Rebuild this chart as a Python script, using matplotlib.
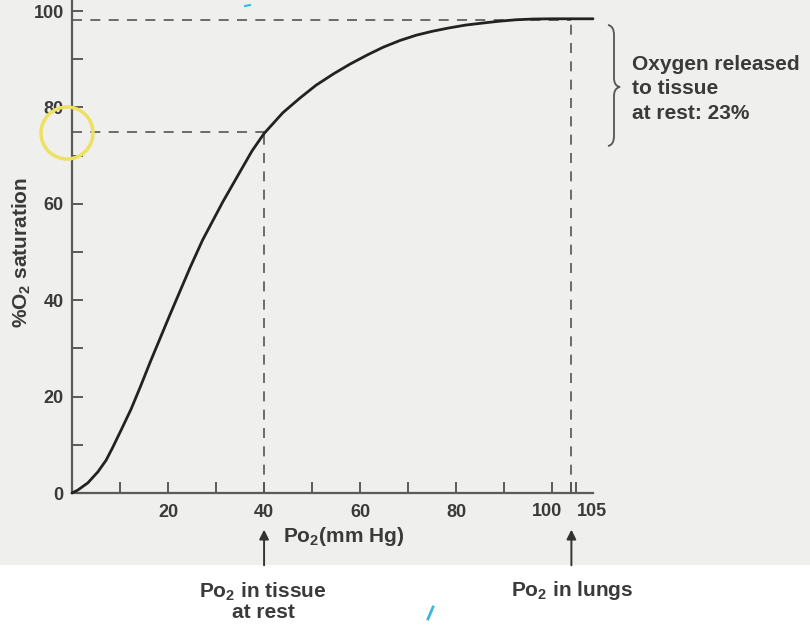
import matplotlib
matplotlib.use("Agg")
import matplotlib.pyplot as plt
from matplotlib.patches import Rectangle, Ellipse, PathPatch
from matplotlib.path import Path
from matplotlib.transforms import Affine2D

# ---- data ----
po2 = [0, 1.2, 3.3, 5.4, 7.1, 8.5, 10.2, 12.3, 14.3, 16.3, 20.4, 24.6, 27.2, 31.4,
       34.9, 37.5, 40, 43.9, 47.4, 50.8, 54.5, 57.9, 61.5, 64.8, 68.3, 71.7, 75,
       78.5, 82, 85.4, 89, 92.5, 96, 100, 104, 108.5]
sat = [0, 0.6, 2.1, 4.4, 6.8, 9.5, 13.0, 17.4, 22.2, 27.2, 37.0, 46.8, 52.5, 60.4,
       66.5, 71.0, 74.6, 78.9, 81.9, 84.6, 87.0, 89.0, 90.9, 92.5, 93.9, 95.0, 95.8,
       96.5, 97.1, 97.5, 97.9, 98.2, 98.35, 98.4, 98.4, 98.4]
tissue_po2, tissue_sat = 40, 75
lungs_po2, lungs_sat = 104, 98.2
x_major = [20, 40, 60, 80]
x_minor = [10, 30, 50, 70, 90, 100, 104, 105]
x_extra_labels = ['100', '105']
y_major = [0, 20, 40, 60, 80, 100]
y_minor = [10, 30, 50, 70, 90]
note_lines = ['Oxygen released', 'to tissue', 'at rest: 23%']

plt.rcParams['font.family'] = ['Liberation Sans', 'DejaVu Sans']
plt.rcParams['font.weight'] = 'bold'
plt.rcParams['mathtext.fontset'] = 'custom'
plt.rcParams['mathtext.rm'] = 'Liberation Sans:bold'
plt.rcParams['mathtext.it'] = 'Liberation Sans:bold'
plt.rcParams['mathtext.bf'] = 'Liberation Sans:bold'
plt.rcParams['mathtext.default'] = 'rm'

W, H = 810, 640
fig = plt.figure(figsize=(W / 100, H / 100), dpi=100, facecolor='white')
px = Affine2D().scale(1 / W, -1 / H).translate(0, 1) + fig.transFigure

# paper background
fig.patches.append(Rectangle((0, 0), W, 565, transform=px, facecolor='#efefed',
                             edgecolor='none', zorder=-10))

ink = '#3a3a3a'
axc = '#5a5a5a'
ax = fig.add_axes([72 / W, 1 - 493 / H, (593 - 72) / W, 493 / H])
ax.set_facecolor('none')
ax.set_xlim(0, 108.5)
ax.set_ylim(0, 102.3)
for s in ['top', 'right']:
    ax.spines[s].set_visible(False)
for s in ['left', 'bottom']:
    ax.spines[s].set_color(axc)
    ax.spines[s].set_linewidth(1.6)

ax.set_xticks(x_major)
ax.set_xticks(x_minor, minor=True)
ax.set_yticks(y_major)
ax.set_yticks(y_minor, minor=True)
ax.tick_params(axis='both', which='both', direction='in', color=axc, width=1.4,
               labelsize=13, labelcolor=ink, length=8)
ax.tick_params(axis='x', pad=8)
ax.tick_params(axis='y', pad=6)
for lab in ax.get_xticklabels() + ax.get_yticklabels():
    lab.set_fontweight('bold')

# extra x labels 100 and 105 (offset as in the original)
for xv, lab in zip([99, 108.3], x_extra_labels):
    ax.text(xv, -2.1, lab, ha='center', va='top', fontsize=13, fontweight='bold',
            color=ink, clip_on=False)

# curve
ax.plot(po2, sat, color='#222222', lw=2.0, clip_on=False, zorder=5,
        solid_capstyle='round', solid_joinstyle='round')

# dashed guides
dkw = dict(color='#555555', lw=1.2, dashes=(6, 5))
ax.plot([0, tissue_po2], [tissue_sat, tissue_sat], **dkw)
ax.plot([tissue_po2, tissue_po2], [0, tissue_sat], **dkw)
ax.plot([0, lungs_po2], [lungs_sat, lungs_sat], **dkw)
ax.plot([lungs_po2, lungs_po2], [0, lungs_sat], **dkw)

# axis labels
fig.text(283 / W, 1 - 537 / H, 'Po$_2$(mm Hg)', ha='left', va='center',
         fontsize=15, color=ink, fontweight='bold')
fig.text(22 / W, 1 - 252 / H, '%O$_2$ saturation', rotation=90, ha='center',
         va='center', fontsize=15, color=ink, fontweight='bold')

# arrows
for xv in [tissue_po2, lungs_po2]:
    ax.annotate('', xy=(xv, -7.6), xytext=(xv, -15.0), xycoords='data',
                textcoords='data',
                arrowprops=dict(arrowstyle='-|>', color='#333333', lw=1.4,
                                mutation_scale=14, shrinkA=0, shrinkB=0),
                annotation_clip=False)

fig.text(263 / W, 1 - 601 / H, 'Po$_2$ in tissue\nat rest', ha='center', va='center',
         fontsize=15, color=ink, fontweight='bold', linespacing=1.0)
fig.text(572 / W, 1 - 590 / H, 'Po$_2$ in lungs', ha='center', va='center',
         fontsize=15, color=ink, fontweight='bold')

# brace
verts = [(608, 25), (614, 26), (614, 35),
         (614, 78), (614, 86), (620, 87),
         (614, 88), (614, 96),
         (614, 136), (614, 145), (608, 146)]
codes = [Path.MOVETO, Path.CURVE3, Path.CURVE3,
         Path.LINETO, Path.CURVE3, Path.CURVE3,
         Path.CURVE3, Path.CURVE3,
         Path.LINETO, Path.CURVE3, Path.CURVE3]
fig.patches.append(PathPatch(Path(verts, codes), transform=px, facecolor='none',
                             edgecolor='#555555', lw=1.3))
for i, line in enumerate(note_lines):
    fig.text(632 / W, 1 - (70 + 24.5 * i) / H, line, ha='left', va='baseline',
             fontsize=15, color=ink, fontweight='bold')

# cursor highlight circle
fig.patches.append(Ellipse((67, 133), 52, 52, transform=px, facecolor='none',
                           edgecolor='#eee060', lw=2.5, zorder=10))
# small cyan pen marks
fig.lines.append(plt.Line2D([428, 433], [619, 607], transform=px, color='#3cb8e0', lw=2))
fig.lines.append(plt.Line2D([245, 250], [6, 5], transform=px, color='#3cb8e0', lw=1.5))

fig.savefig('out.png', dpi=100, facecolor=fig.get_facecolor())
